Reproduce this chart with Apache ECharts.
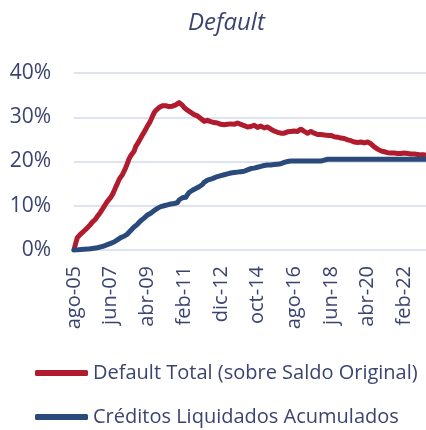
<!DOCTYPE html>
<html>
<head>
<meta charset="utf-8">
<script src="https://cdn.jsdelivr.net/npm/echarts@6/dist/echarts.min.js"></script>
<style>
html,body{margin:0;padding:0;background:#fff;}
#chart{width:426px;height:430px;}
</style>
</head>
<body>
<div id="chart"></div>
<script>
var monthNames = ['ene','feb','mar','abr','may','jun','jul','ago','sep','oct','nov','dic'];
var startYear = 2005, startMonth = 7, monthCount = 212;
var categories = [];
for (var k = 0; k < monthCount; k++) {
  var m = (startMonth + k) % 12;
  var y = startYear + Math.floor((startMonth + k) / 12);
  categories.push(monthNames[m] + '-' + String(y % 100).padStart(2, '0'));
}

var yTicks = [0, 10, 20, 30, 40];

var defaultTotal = [
  0, 1.5, 2.8, 3.2, 3.6, 4.0, 4.3, 4.6, 5.0, 5.3,
  5.8, 6.3, 6.6, 7.0, 7.6, 8.1, 8.6, 9.2, 9.8, 10.4,
  11.0, 11.4, 11.9, 12.5, 13.3, 14.2, 15.0, 15.9, 16.5, 17.0,
  17.8, 18.6, 19.6, 20.6, 21.3, 21.6, 22.3, 23.4, 24.0, 24.6,
  25.3, 26.0, 26.6, 27.3, 28.0, 28.6, 29.3, 30.2, 31.0, 31.5,
  31.9, 32.2, 32.5, 32.6, 32.4, 32.6, 32.5, 32.4, 32.7, 32.5,
  32.3, 32.8, 32.9, 33.3, 33.1, 32.7, 32.2, 31.9, 31.6, 31.3,
  31.1, 30.9, 30.6, 30.4, 30.3, 30.1, 29.7, 29.3, 29.1, 29.4,
  29.3, 29.1, 29.0, 28.9, 28.8, 28.9, 28.7, 28.5, 28.4, 28.6,
  28.3, 28.5, 28.4, 28.3, 28.5, 28.6, 28.4, 28.5, 28.7, 28.6,
  28.4, 28.3, 28.1, 28.0, 27.8, 28.1, 27.9, 27.8, 28.2, 27.9,
  27.7, 27.9, 28.0, 27.8, 27.6, 27.9, 27.8, 27.5, 27.3, 27.1,
  26.9, 26.7, 26.6, 26.5, 26.4, 26.5, 26.4, 26.6, 26.7, 26.6,
  26.8, 26.7, 26.9, 27.0, 26.8, 27.1, 27.3, 27.0, 26.8, 26.6,
  26.4, 26.6, 26.8, 26.7, 26.4, 26.2, 26.1, 26.3, 26.1, 25.9,
  26.0, 26.1, 25.9, 25.8, 25.9, 25.7, 25.6, 25.7, 25.5, 25.4,
  25.3, 25.4, 25.2, 25.0, 24.9, 24.8, 24.7, 24.6, 24.4, 24.5,
  24.3, 24.5, 24.4, 24.3, 24.2, 24.3, 24.4, 24.1, 24.0, 23.6,
  23.3, 23.0, 22.8, 22.6, 22.4, 22.3, 22.2, 22.1, 22.0, 21.9,
  21.9, 21.8, 21.9, 21.8, 21.8, 21.9, 21.8, 21.8, 21.9, 21.8,
  21.8, 21.8, 21.7, 21.8, 21.7, 21.7, 21.6, 21.6, 21.5, 21.5,
  21.5, 21.4
];

var creditosLiquidados = [
  0, 0.0, 0.0, 0.05, 0.1, 0.1, 0.15, 0.2, 0.2, 0.25,
  0.3, 0.35, 0.4, 0.45, 0.5, 0.6, 0.7, 0.8, 0.9, 1.0,
  1.2, 1.4, 1.5, 1.6, 1.8, 2.0, 2.3, 2.6, 2.8, 3.0,
  3.1, 3.3, 3.6, 4.0, 4.4, 4.8, 5.2, 5.5, 5.8, 6.2,
  6.6, 6.9, 7.2, 7.6, 7.9, 8.1, 8.3, 8.6, 8.9, 9.2,
  9.4, 9.6, 9.8, 9.9, 10.0, 10.1, 10.2, 10.3, 10.4, 10.4,
  10.5, 10.6, 10.7, 11.3, 11.7, 11.8, 11.8, 11.9, 12.5, 13.0,
  13.3, 13.5, 13.7, 13.9, 14.1, 14.3, 14.5, 14.8, 15.3, 15.6,
  15.8, 15.9, 16.0, 16.2, 16.3, 16.4, 16.6, 16.7, 16.8, 16.9,
  17.0, 17.1, 17.2, 17.3, 17.4, 17.5, 17.5, 17.6, 17.6, 17.7,
  17.7, 17.8, 17.8, 17.9, 18.1, 18.3, 18.4, 18.5, 18.5, 18.6,
  18.7, 18.8, 18.9, 19.0, 19.1, 19.1, 19.2, 19.2, 19.2, 19.3,
  19.3, 19.3, 19.4, 19.4, 19.5, 19.7, 19.8, 19.9, 20.0, 20.0,
  20.1, 20.1, 20.1, 20.1, 20.1, 20.1, 20.1, 20.1, 20.1, 20.1,
  20.1, 20.1, 20.1, 20.1, 20.1, 20.1, 20.1, 20.1, 20.1, 20.2,
  20.3, 20.4, 20.5, 20.5, 20.5, 20.5, 20.5, 20.5, 20.5, 20.5,
  20.5, 20.5, 20.5, 20.5, 20.5, 20.5, 20.5, 20.5, 20.5, 20.5,
  20.5, 20.5, 20.5, 20.5, 20.5, 20.5, 20.5, 20.5, 20.5, 20.5,
  20.5, 20.5, 20.5, 20.5, 20.5, 20.5, 20.5, 20.5, 20.5, 20.5,
  20.5, 20.5, 20.5, 20.5, 20.5, 20.5, 20.5, 20.5, 20.5, 20.5,
  20.5, 20.5, 20.5, 20.5, 20.5, 20.5, 20.5, 20.5, 20.5, 20.5,
  20.5, 20.5
];

var seriesNames = ['Default Total (sobre Saldo Original)', 'Créditos Liquidados Acumulados'];
var textColor = '#3b4470';
var fontFam = '"Open Sans", "Noto Sans", sans-serif';

function legendFor(name, top) {
  return {
    orient: 'horizontal',
    left: 35,
    top: top,
    itemWidth: 53,
    itemHeight: 6,
    icon: 'roundRect',
    padding: 0,
    textStyle: {fontFamily: fontFam, fontSize: 20, color: textColor, lineHeight: 24},
    data: [name]
  };
}

var chart = echarts.init(document.getElementById('chart'), null, {renderer: 'canvas'});
chart.setOption({
  animation: false,
  backgroundColor: '#ffffff',
  title: {
    text: 'Default',
    left: 183,
    top: 6,
    textStyle: {fontFamily: fontFam, fontStyle: 'italic', fontWeight: 'normal', fontSize: 24, color: textColor}
  },
  grid: {left: 74, right: 0, top: 73, bottom: 180, containLabel: false},
  legend: [legendFor(seriesNames[0], 361), legendFor(seriesNames[1], 405)],
  xAxis: {
    type: 'category',
    data: categories,
    boundaryGap: false,
    axisLine: {show: false},
    axisTick: {show: false},
    axisLabel: {
      interval: 21,
      rotate: 90,
      margin: 16,
      fontFamily: fontFam,
      fontSize: 20,
      color: textColor
    },
    splitLine: {show: false}
  },
  yAxis: {
    type: 'value',
    min: yTicks[0],
    max: yTicks[yTicks.length - 1],
    interval: 10,
    axisLine: {show: false},
    axisTick: {show: false},
    axisLabel: {
      formatter: '{value}%',
      margin: 23,
      fontFamily: fontFam,
      fontSize: 21,
      color: textColor
    },
    splitLine: {lineStyle: {color: '#dfe2ef', width: 2}}
  },
  series: [
    {
      name: seriesNames[0],
      type: 'line',
      data: defaultTotal,
      showSymbol: false,
      symbol: 'none',
      lineStyle: {color: '#b01c2e', width: 5, cap: 'round', join: 'round'},
      itemStyle: {color: '#b01c2e'},
      z: 3
    },
    {
      name: seriesNames[1],
      type: 'line',
      data: creditosLiquidados,
      showSymbol: false,
      symbol: 'none',
      lineStyle: {color: '#2b4a7c', width: 5, cap: 'round', join: 'round'},
      itemStyle: {color: '#2b4a7c'},
      z: 4
    }
  ]
});
</script>
</body>
</html>
